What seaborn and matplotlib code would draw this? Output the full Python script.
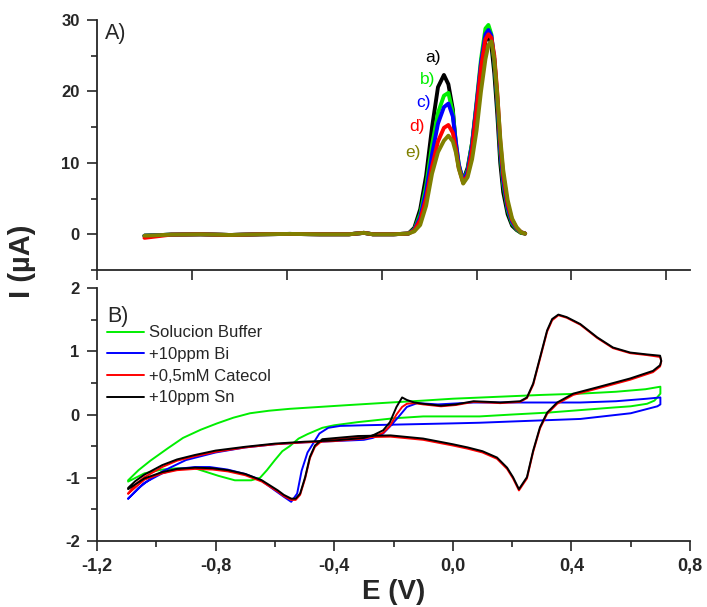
#!/usr/bin/env python3
"""
Two stacked voltammetry panels:
  A) square-wave voltammograms a)-e)
  B) cyclic voltammograms (buffer, +Bi, +catechol, +Sn)

Output:
  out.png  (~707x607 px)
"""

import matplotlib

matplotlib.use("Agg")
import matplotlib.pyplot as plt
import numpy as np
import seaborn as sns
from matplotlib.ticker import FixedLocator, MultipleLocator

# ---- panel A: square-wave voltammograms, shared potential grid (V) ----
swv_e = [-1.04, -0.95, -0.85, -0.75, -0.65, -0.55, -0.45, -0.35, -0.30, -0.27,
         -0.20, -0.15, -0.13, -0.11, -0.09, -0.07, -0.05, -0.03, -0.015, 0.0,
         0.01, 0.02, 0.035, 0.05, 0.065, 0.08, 0.095, 0.11, 0.12, 0.13,
         0.14, 0.15, 0.16, 0.17, 0.185, 0.20, 0.215, 0.23, 0.244]
swv_a = [-0.2, -0.05, 0.0, -0.1, 0.0, 0.05, 0.0, 0.0, 0.2, 0.0,
         0.0, 0.1, 0.9, 3.5, 8.2, 15.0, 20.6, 22.3, 21.0, 17.5,
         12.5, 9.5, 7.6, 9.3, 12.8, 18.0, 23.5, 27.0, 28.0, 26.5,
         22.5, 16.8, 10.0, 5.9, 2.8, 1.2, 0.6, 0.2, 0.1]
swv_b = [-0.2, -0.05, 0.0, -0.1, 0.0, 0.05, 0.0, 0.0, 0.2, 0.0,
         0.0, 0.1, 0.7, 2.8, 6.8, 12.5, 17.0, 19.4, 19.8, 17.0,
         13.0, 9.8, 7.4, 9.0, 12.8, 18.5, 24.5, 28.8, 29.3, 28.0,
         24.0, 18.5, 11.5, 7.0, 3.4, 1.5, 0.7, 0.2, 0.1]
swv_c = [-0.2, -0.05, 0.0, -0.1, 0.0, 0.05, 0.0, 0.0, 0.2, 0.0,
         0.0, 0.1, 0.6, 2.4, 6.0, 11.2, 15.5, 17.8, 18.3, 16.5,
         13.0, 9.8, 7.3, 8.8, 12.5, 18.2, 24.0, 28.0, 28.6, 27.8,
         24.5, 19.0, 12.0, 7.5, 3.7, 1.7, 0.8, 0.3, 0.1]
swv_d = [-0.5, -0.05, 0.0, -0.1, 0.0, 0.05, 0.0, 0.0, 0.2, 0.0,
         0.0, 0.1, 0.5, 2.0, 5.0, 9.5, 13.0, 14.9, 15.3, 14.2,
         12.0, 9.3, 7.2, 8.3, 11.8, 17.5, 23.3, 27.3, 28.0, 27.5,
         25.0, 19.8, 13.0, 8.3, 4.2, 2.0, 0.9, 0.3, 0.1]
swv_f = [-0.2, -0.05, 0.0, -0.1, 0.0, 0.05, 0.0, 0.0, 0.2, 0.0,
         0.0, 0.1, 0.4, 1.3, 4.0, 8.5, 11.5, 13.1, 13.8, 13.0,
         11.5, 9.2, 7.1, 8.0, 10.5, 14.5, 20.0, 24.5, 26.5, 27.0,
         24.5, 19.5, 13.5, 9.0, 4.8, 2.2, 1.0, 0.3, 0.1]
swv_tags = ["a)", "b)", "c)", "d)", "e)"]
swv_tag_e = [-0.067, -0.084, -0.100, -0.121, -0.134]
swv_tag_i = [24.8, 21.6, 18.4, 15.1, 11.4]

# ---- panel B: cyclic voltammograms, closed loops (V, uA) ----
buffer_e = [-1.095, -1.06, -1.02, -0.96, -0.91, -0.85, -0.795, -0.74, -0.684, -0.62,
            -0.55, -0.45, -0.35, -0.21, -0.10, 0.0, 0.10, 0.20, 0.30, 0.43,
            0.55, 0.65, 0.70, 0.70, 0.68, 0.655, 0.60, 0.54, 0.43, 0.32,
            0.20, 0.09, 0.0, -0.10, -0.20, -0.32, -0.40, -0.44, -0.49, -0.52,
            -0.55, -0.575, -0.60, -0.627, -0.65, -0.68, -0.735, -0.79, -0.87, -0.93,
            -0.98, -1.04, -1.095]
buffer_i = [-1.04, -0.88, -0.73, -0.53, -0.37, -0.24, -0.14, -0.05, 0.02, 0.06,
            0.09, 0.12, 0.15, 0.19, 0.22, 0.25, 0.27, 0.29, 0.31, 0.33,
            0.36, 0.40, 0.44, 0.33, 0.22, 0.17, 0.13, 0.11, 0.07, 0.03,
            0.0, -0.03, -0.03, -0.03, -0.06, -0.12, -0.17, -0.21, -0.31, -0.38,
            -0.50, -0.58, -0.72, -0.88, -1.0, -1.04, -1.04, -0.97, -0.85, -0.85,
            -0.87, -0.93, -1.06]

bi_e = [-1.095, -1.06, -1.02, -0.98, -0.9, -0.8, -0.7, -0.6, -0.5, -0.4,
        -0.3, -0.27, -0.235, -0.21, -0.18, -0.155, -0.12, -0.05, 0.07, 0.2,
        0.43, 0.55, 0.655, 0.70, 0.70, 0.69, 0.6, 0.43, 0.2, 0.09,
        0.0, -0.1, -0.2, -0.3, -0.38, -0.42, -0.45, -0.47, -0.49, -0.51,
        -0.525, -0.545, -0.57, -0.6, -0.65, -0.7, -0.76, -0.82, -0.87, -0.93,
        -0.98, -1.04, -1.095]
bi_i = [-1.33, -1.16, -1.02, -0.90, -0.72, -0.60, -0.52, -0.47, -0.44, -0.42,
        -0.40, -0.37, -0.30, -0.18, -0.02, 0.12, 0.18, 0.16, 0.19, 0.19,
        0.19, 0.21, 0.25, 0.27, 0.16, 0.13, 0.02, -0.07, -0.11, -0.13,
        -0.14, -0.15, -0.16, -0.17, -0.18, -0.21, -0.30, -0.45, -0.60, -0.89,
        -1.25, -1.38, -1.30, -1.20, -1.03, -0.94, -0.87, -0.83, -0.83, -0.86,
        -0.93, -1.08, -1.33]

# catechol and Sn loops share one potential list
cat_e = [-1.095, -1.07, -1.04, -0.98, -0.93, -0.87, -0.8, -0.7, -0.6, -0.5,
         -0.4, -0.3, -0.27, -0.235, -0.212, -0.19, -0.171, -0.155, -0.13, -0.1,
         -0.04, 0.01, 0.07, 0.12, 0.16, 0.227, 0.25, 0.271, 0.294, 0.318,
         0.335, 0.356, 0.384, 0.43, 0.487, 0.54, 0.598, 0.655, 0.699, 0.703,
         0.699, 0.675, 0.598, 0.487, 0.406, 0.352, 0.318, 0.294, 0.271, 0.25,
         0.223, 0.203, 0.183, 0.149, 0.10, 0.05, 0.0, -0.1, -0.21, -0.32,
         -0.44, -0.465, -0.482, -0.498, -0.515, -0.53, -0.545, -0.57, -0.59, -0.644,
         -0.70, -0.758, -0.81, -0.869, -0.93, -0.98, -1.04, -1.095]
cat_i = [-1.25, -1.10, -0.99, -0.83, -0.73, -0.66, -0.59, -0.52, -0.47, -0.44,
         -0.42, -0.38, -0.35, -0.29, -0.18, 0.0, 0.12, 0.17, 0.18, 0.16,
         0.13, 0.15, 0.20, 0.19, 0.18, 0.20, 0.26, 0.47, 0.88, 1.31,
         1.49, 1.57, 1.53, 1.42, 1.21, 1.05, 0.97, 0.94, 0.91, 0.84,
         0.76, 0.67, 0.55, 0.41, 0.31, 0.17, 0.01, -0.22, -0.59, -1.01,
         -1.20, -1.01, -0.86, -0.70, -0.60, -0.54, -0.49, -0.40, -0.35, -0.36,
         -0.41, -0.51, -0.69, -1.01, -1.27, -1.35, -1.35, -1.29, -1.22, -1.06,
         -0.96, -0.90, -0.87, -0.86, -0.88, -0.93, -1.03, -1.25]
sn_i = [-1.16, -1.05, -0.95, -0.80, -0.71, -0.64, -0.57, -0.51, -0.46, -0.43,
        -0.41, -0.37, -0.33, -0.25, -0.12, 0.12, 0.27, 0.23, 0.19, 0.17,
        0.14, 0.16, 0.21, 0.20, 0.19, 0.21, 0.27, 0.49, 0.90, 1.33,
        1.51, 1.58, 1.54, 1.43, 1.22, 1.06, 0.98, 0.95, 0.93, 0.85,
        0.78, 0.69, 0.57, 0.43, 0.33, 0.19, 0.03, -0.20, -0.57, -0.99,
        -1.18, -0.99, -0.84, -0.68, -0.58, -0.52, -0.47, -0.38, -0.33, -0.34,
        -0.39, -0.49, -0.67, -0.99, -1.25, -1.33, -1.33, -1.27, -1.20, -1.04,
        -0.94, -0.88, -0.85, -0.84, -0.86, -0.91, -1.01, -1.18]
cv_labels = ["Solucion Buffer", "+10ppm Bi", "+0,5mM Catecol", "+10ppm Sn"]

x_ticks = [-1.2, -0.8, -0.4, 0.0, 0.4, 0.8]
x_tick_labels = ["-1,2", "-0,8", "-0,4", "0,0", "0,4", "0,8"]
top_x_ticks = [-1.2, -0.88, -0.56, -0.24, 0.08, 0.40, 0.72]
top_y_ticks = [0, 10, 20, 30]
bot_y_ticks = [-2, -1, 0, 1, 2]

SWV_COLORS = ["#000000", "#00ee00", "#0000ff", "#ff0000", "#808000"]
CV_COLORS = ["#00ee00", "#0000ff", "#ff0000", "#000000"]


def style_axis(ax) -> None:
    sns.despine(ax=ax)
    for side in ("left", "bottom"):
        ax.spines[side].set_linewidth(1.3)
    ax.tick_params(which="major", length=7, width=1.2, pad=5.5, direction="out")
    ax.tick_params(which="minor", length=4, width=1.2, direction="out")
    ax.set_xlim(-1.2, 0.8)


def plot_swv(ax) -> None:
    for vals, color in zip([swv_a, swv_b, swv_c, swv_d, swv_f], SWV_COLORS):
        sns.lineplot(x=np.array(swv_e), y=np.array(vals), sort=False, estimator=None,
                     color=color, lw=2.8, ax=ax)
    for tag, e, i, color in zip(swv_tags, swv_tag_e, swv_tag_i, SWV_COLORS):
        ax.text(e, i, tag, color=color, fontsize=12.5, ha="center", va="center")
    style_axis(ax)
    ax.set_ylim(-5, 30)
    ax.xaxis.set_major_locator(FixedLocator(top_x_ticks))
    ax.set_xticklabels([])
    ax.set_yticks(top_y_ticks, labels=[str(v) for v in top_y_ticks],
                  fontweight="bold", fontsize=12)
    ax.yaxis.set_minor_locator(MultipleLocator(5))
    ax.text(0.013, 0.946, "A)", transform=ax.transAxes, fontsize=15.5,
            ha="left", va="center")


def plot_cv(ax) -> None:
    loops = [(buffer_e, buffer_i), (bi_e, bi_i), (cat_e, cat_i), (cat_e, sn_i)]
    for (e, i), color, label in zip(loops, CV_COLORS, cv_labels):
        sns.lineplot(x=np.array(e), y=np.array(i), sort=False, estimator=None,
                     color=color, lw=1.4, label=label, ax=ax)
    style_axis(ax)
    ax.set_ylim(-2, 2)
    ax.set_xticks(x_ticks, labels=x_tick_labels, fontweight="bold", fontsize=13)
    ax.xaxis.set_minor_locator(MultipleLocator(0.2))
    ax.set_yticks(bot_y_ticks, labels=[str(v) for v in bot_y_ticks],
                  fontweight="bold", fontsize=12)
    ax.yaxis.set_minor_locator(MultipleLocator(0.5))
    ax.text(0.018, 0.889, "B)", transform=ax.transAxes, fontsize=15.5,
            ha="left", va="center")
    ax.legend(loc="upper left", bbox_to_anchor=(0.0169, 0.852), frameon=False,
              fontsize=12, handlelength=2.2, handletextpad=0.3,
              labelspacing=0.4, borderpad=0, borderaxespad=0)


def main() -> int:
    sns.set_style("ticks")
    plt.rcParams["font.family"] = ["Liberation Sans", "DejaVu Sans"]
    plt.rcParams["axes.unicode_minus"] = False

    fig = plt.figure(figsize=(7.07, 6.07), dpi=100)
    ax_top = fig.add_axes([0.1372, 0.5552, 0.8388, 0.4119])
    ax_bot = fig.add_axes([0.1372, 0.1087, 0.8388, 0.4168])

    plot_swv(ax_top)
    plot_cv(ax_bot)

    fig.text(0.031, 0.569, "I (\u00b5A)", rotation=90, ha="center", va="center",
             fontsize=21, fontweight="bold")
    fig.text(0.557, 0.004, "E (V)", ha="center", va="bottom",
             fontsize=20, fontweight="bold")

    fig.savefig("out.png", dpi=100)
    plt.close(fig)
    return 0


if __name__ == "__main__":
    raise SystemExit(main())
